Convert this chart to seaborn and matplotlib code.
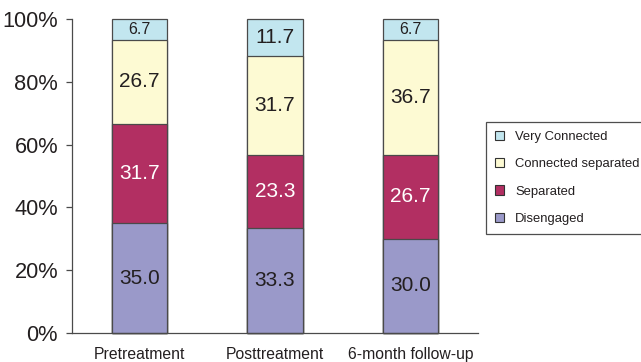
import matplotlib
matplotlib.use("Agg")
import matplotlib.pyplot as plt
from matplotlib.patches import Patch
import seaborn as sns
import pandas as pd
import numpy as np

categories = ["Pretreatment", "Posttreatment", "6-month follow-up"]
disengaged = [35.0, 33.3, 30.0]
separated = [31.7, 23.3, 26.7]
connected_separated = [26.7, 31.7, 36.7]
very_connected = [6.7, 11.7, 6.7]
series_names = ["Disengaged", "Separated", "Connected separated", "Very Connected"]
y_ticks = [0, 20, 40, 60, 80, 100]
y_tick_labels = ["0%", "20%", "40%", "60%", "80%", "100%"]

colors = {"Disengaged": "#9A99C9", "Separated": "#B22F62",
          "Connected separated": "#FDFAD3", "Very Connected": "#C2E6EF"}
text_colors = {"Disengaged": "#231F20", "Separated": "white",
               "Connected separated": "#231F20", "Very Connected": "#231F20"}

sns.set_style("white")
plt.rcParams["font.family"] = ["Liberation Sans", "DejaVu Sans"]

series = [disengaged, separated, connected_separated, very_connected]
cum = np.cumsum(np.array(series), axis=0)

fig = plt.figure(figsize=(6.41, 3.62), dpi=100)
ax = fig.add_axes([72/641, 1 - 333/362, (478-72)/641, (333-19)/362])

# draw from the tallest cumulative layer to the smallest so they stack visually
for i in range(len(series) - 1, -1, -1):
    name = series_names[i]
    df = pd.DataFrame({"cat": categories, "val": cum[i]})
    sns.barplot(data=df, x="cat", y="val", color=colors[name], width=0.41,
                edgecolor="#4a4a4a", linewidth=0.9, ax=ax, saturation=1,
                order=categories)

for p in ax.patches:
    p.set_clip_on(False)

# labels
for i, name in enumerate(series_names):
    vals = series[i]
    for j in range(len(categories)):
        top = min(cum[i][j], 100)
        bottom = cum[i][j] - vals[j]
        center = (top + bottom) / 2
        fs = 11.5 if vals[j] < 10 else 15
        ax.text(j, center, f"{vals[j]:.1f}", ha="center", va="center",
                fontsize=fs, color=text_colors[name])

ax.set_ylim(0, 100)
ax.set_xlim(-0.5, 2.5)
ax.set_yticks(y_ticks)
ax.set_yticklabels(y_tick_labels, fontsize=15.7, color="#231F20")
ax.set_xticks(range(len(categories)))
ax.set_xticklabels(categories, fontsize=11.3, color="#231F20")
ax.set_xticks([-0.5, 0.5, 1.5, 2.5], minor=True)
ax.tick_params(axis="x", which="major", length=0, pad=10)
ax.tick_params(axis="x", which="minor", length=4, width=0.9, color="#4a4a4a", direction="out")
ax.tick_params(axis="y", length=4, width=0.9, color="#4a4a4a", direction="out", left=True, pad=6)
ax.set_xlabel("")
ax.set_ylabel("")
for s in ["top", "right"]:
    ax.spines[s].set_visible(False)
for s in ["left", "bottom"]:
    ax.spines[s].set_color("#4a4a4a")
    ax.spines[s].set_linewidth(0.9)

handles = [Patch(facecolor=colors[n], edgecolor="#333333", linewidth=0.8)
           for n in reversed(series_names)]
leg = fig.legend(handles, list(reversed(series_names)), loc="upper left",
                 bbox_to_anchor=(486/641, 1 - 122/362), borderaxespad=0,
                 fontsize=9.4, frameon=True, fancybox=False, edgecolor="#222222",
                 handlelength=0.7, handleheight=0.7, handletextpad=0.85,
                 labelspacing=1.15, borderpad=0.7)
leg.get_frame().set_linewidth(0.9)
for t in leg.get_texts():
    t.set_color("#231F20")

fig.savefig("out.png", dpi=100)
